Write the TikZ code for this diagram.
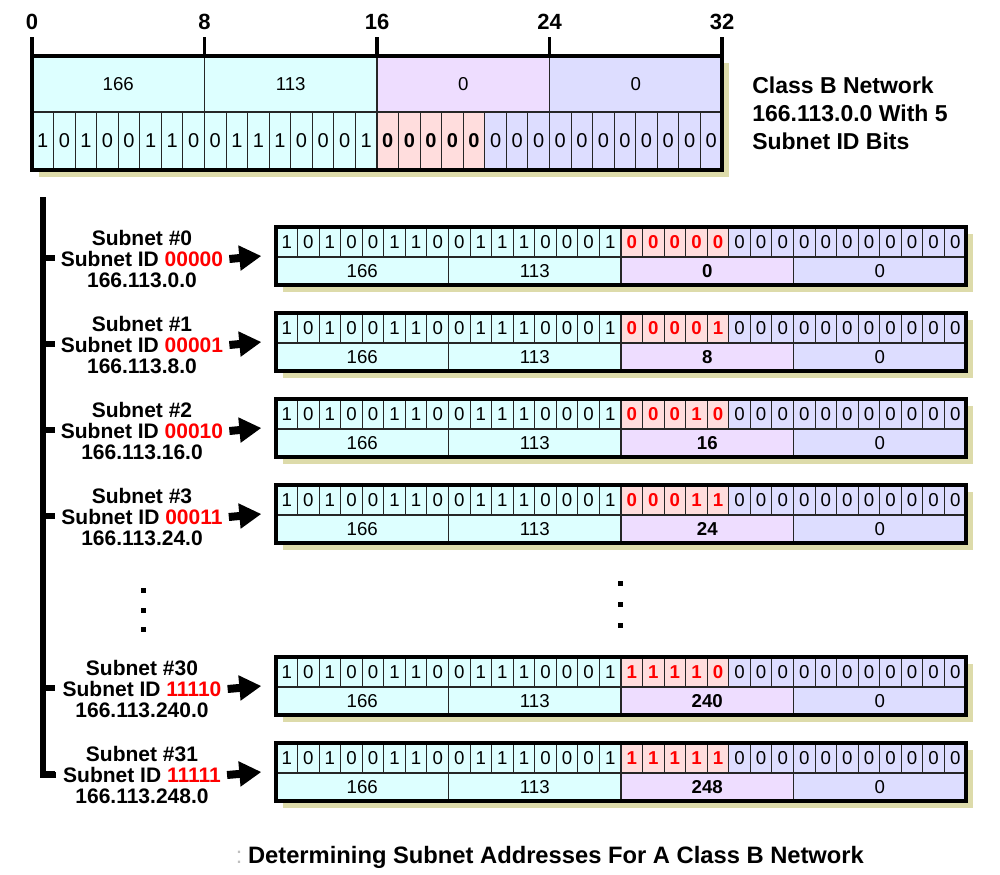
\documentclass[tikz,border=0pt]{standalone}
\usepackage{fontspec}
\setmainfont{Liberation Sans}
\usetikzlibrary{arrows.meta}
\definecolor{cy}{RGB}{221,255,255}
\definecolor{vi}{RGB}{238,221,255}
\definecolor{bl}{RGB}{221,221,255}
\definecolor{pk}{RGB}{255,221,221}
\definecolor{sh}{RGB}{221,219,170}
\definecolor{rd}{RGB}{255,0,0}
\begin{document}
\begin{tikzpicture}[x=0.75pt,y=-0.75pt,
  tbit/.style={inner sep=0pt, font=\fontsize{15}{15}\selectfont},
  rbit/.style={inner sep=0pt, font=\fontsize{14}{14}\selectfont},
  bytelab/.style={inner sep=0pt, font=\fontsize{14}{14}\selectfont},
  sep/.style={line width=0.8pt, black!85},
  border/.style={line width=3pt, line join=miter},
  tick/.style={line width=2.4pt},
  ticklab/.style={inner sep=0pt, font=\bfseries\fontsize{16.5}{16.5}\selectfont},
  lab/.style={align=center, inner sep=0pt, font=\bfseries\fontsize{15.75}{15.4}\selectfont},
  bar/.style={line width=4.5pt, line join=miter},
  bigarrow/.style={line width=6pt, -{Triangle[length=16.5pt,width=18pt]}},
  dot/.style={fill=black}]
\useasboundingbox (0,0) rectangle (1000,875);
\def\cw{21.5625}
% ---------------- top box ----------------
\fill[sh] (39,63) rectangle (729,177);
\foreach \n/\c/\v [count=\j from 0] in {a/cy/166,b/cy/113,c/vi/0,d/bl/0} {
  \fill[\c] ({32+172.5*\j},56) rectangle ({32+172.5*(\j+1)},112);
  \node[bytelab] (tb\n) at ({32+172.5*(\j+0.5)},84) {\v};
}
\foreach \b [count=\i from 0] in {1,0,1,0,0,1,1,0,0,1,1,1,0,0,0,1} {
  \fill[cy] ({32+\cw*\i},112) rectangle ({32+\cw*(\i+1)},170);
  \node[tbit] (t\i) at ({32+\cw*(\i+0.5)},141) {\b};
}
\foreach \i in {16,...,20} {
  \fill[pk] ({32+\cw*\i},112) rectangle ({32+\cw*(\i+1)},170);
  \node[tbit,font=\bfseries\fontsize{15}{15}\selectfont] (t\i) at ({32+\cw*(\i+0.5)},141) {0};
}
\foreach \i in {21,...,31} {
  \fill[bl] ({32+\cw*\i},112) rectangle ({32+\cw*(\i+1)},170);
  \node[tbit] (t\i) at ({32+\cw*(\i+0.5)},141) {0};
}
\foreach \i in {1,...,31} \draw[sep] ({32+\cw*\i},112) -- ({32+\cw*\i},170);
\foreach \i in {1,2,3} \draw[sep] ({32+172.5*\i},56) -- ({32+172.5*\i},112);
\draw[sep] (32,112) -- (722,112);
\draw[border] (32,56) rectangle (722,170);
\foreach \i/\t in {0/0,1/8,2/16,3/24,4/32} {
  \draw[tick] ({32+172.5*\i},37) -- ({32+172.5*\i},56);
  \node[ticklab] (tk\i) at ({32+172.5*\i},22) {\t};
}
\node[anchor=west, align=left, inner sep=0pt,
  font=\bfseries\fontsize{17.25}{21}\selectfont] (info) at (752,113)
  {Class B Network\\166.113.0.0 With 5\\Subnet ID Bits};
% ---------------- left bar ----------------
\draw[bar] (43,197) -- (43,775) -- (56,775);
% ---------------- subnet rows ----------------
\foreach \r/\num/\ba/\bb/\bc/\bd/\be/\third/\ip in {
  0/0/0/0/0/0/0/0/166.113.0.0,
  1/1/0/0/0/0/1/8/166.113.8.0,
  2/2/0/0/0/1/0/16/166.113.16.0,
  3/3/0/0/0/1/1/24/166.113.24.0,
  5/30/1/1/1/1/0/240/166.113.240.0,
  6/31/1/1/1/1/1/248/166.113.248.0} {
  \pgfmathsetmacro\rowT{227+86*\r}
  \fill[sh] (283,{\rowT+7}) rectangle (973,{\rowT+65});
  \foreach \b [count=\i from 0] in {1,0,1,0,0,1,1,0,0,1,1,1,0,0,0,1} {
    \fill[cy] ({276+\cw*\i},\rowT) rectangle ({276+\cw*(\i+1)},{\rowT+30});
    \node[rbit] (r\r-\i) at ({276+\cw*(\i+0.5)},{\rowT+15}) {\b};
  }
  \foreach \b [count=\i from 16] in {\ba,\bb,\bc,\bd,\be} {
    \fill[pk] ({276+\cw*\i},\rowT) rectangle ({276+\cw*(\i+1)},{\rowT+30});
    \node[rbit,text=rd,font=\bfseries\fontsize{14}{14}\selectfont] (r\r-\i) at ({276+\cw*(\i+0.5)},{\rowT+15}) {\b};
  }
  \foreach \i in {21,...,31} {
    \fill[bl] ({276+\cw*\i},\rowT) rectangle ({276+\cw*(\i+1)},{\rowT+30});
    \node[rbit] (r\r-\i) at ({276+\cw*(\i+0.5)},{\rowT+15}) {0};
  }
  \fill[cy] (276,{\rowT+30}) rectangle (621,{\rowT+58});
  \fill[vi] (621,{\rowT+30}) rectangle (793.5,{\rowT+58});
  \fill[bl] (793.5,{\rowT+30}) rectangle (966,{\rowT+58});
  \node[bytelab] (r\r-ba) at (362.25,{\rowT+44}) {166};
  \node[bytelab] (r\r-bb) at (534.75,{\rowT+44}) {113};
  \node[bytelab,font=\bfseries\fontsize{14}{14}\selectfont] (r\r-bc) at (707.25,{\rowT+44}) {\third};
  \node[bytelab] (r\r-bd) at (879.75,{\rowT+44}) {0};
  \foreach \i in {1,...,31} \draw[sep] ({276+\cw*\i},\rowT) -- ({276+\cw*\i},{\rowT+30});
  \foreach \i in {1,2,3} \draw[sep] ({276+172.5*\i},{\rowT+30}) -- ({276+172.5*\i},{\rowT+58});
  \draw[sep] (276,{\rowT+30}) -- (966,{\rowT+30});
  \node[draw, border, outer sep=0pt, inner sep=0pt, anchor=north west,
    minimum width=517.5pt, minimum height=43.5pt] (row\r) at (276,\rowT) {};
  \node[lab] (lab\r) at (142,{\rowT+32})
    {Subnet \#\num\\Subnet ID \textcolor{rd}{\ba\bb\bc\bd\be}\\\ip};
  \draw[bar] (43,{\rowT+31}) -- (55,{\rowT+31});
  \draw[bigarrow] ([xshift=4.5pt]lab\r.east) -- ([xshift=-11pt]row\r.west);
}
% ---------------- ellipsis dots ----------------
\foreach \y in {590,610,629} \fill[dot] (140.5,{\y-2.5}) rectangle (145.5,{\y+2.5});
\foreach \y in {583,604,625} \fill[dot] (617.5,{\y-2.5}) rectangle (622.5,{\y+2.5});
% ---------------- caption ----------------
\node[inner sep=0pt, text=black!25, font=\fontsize{17.5}{17.5}\selectfont] (capc) at (239,857) {:};
\node[inner sep=0pt, font=\bfseries\fontsize{17.8}{17.8}\selectfont] (cap) at (556,857)
  {Determining Subnet Addresses For A Class B Network};
\end{tikzpicture}
\end{document}
